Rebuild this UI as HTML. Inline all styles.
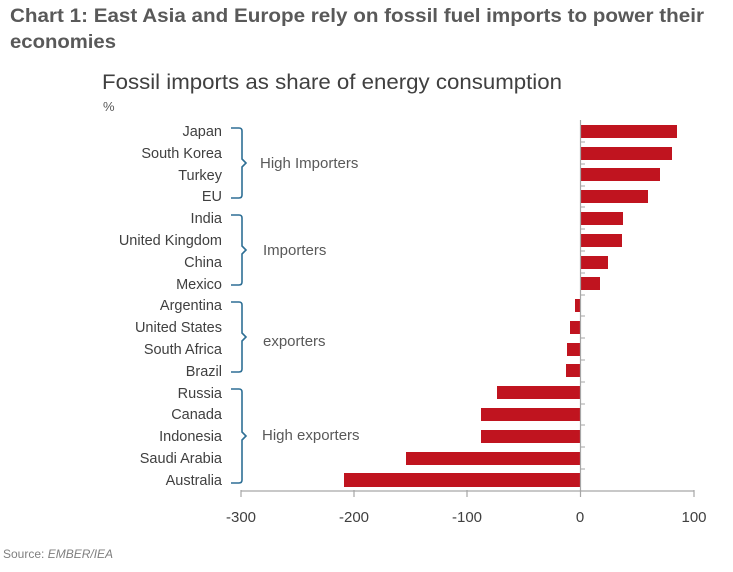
<!DOCTYPE html>
<html><head><meta charset="utf-8"><style>
body{margin:0;background:#fff;}
svg{display:block;font-family:"Liberation Sans",sans-serif;}
</style></head><body>
<svg width="733" height="572" viewBox="0 0 733 572">
<text x="10" y="22" font-size="19" font-weight="bold" fill="#595959" font-family="'Liberation Sans Narrow','Liberation Sans',sans-serif" textLength="694" lengthAdjust="spacingAndGlyphs">Chart 1: East Asia and Europe rely on fossil fuel imports to power their</text>
<text x="10" y="48" font-size="19" font-weight="bold" fill="#595959" font-family="'Liberation Sans Narrow','Liberation Sans',sans-serif" textLength="106" lengthAdjust="spacingAndGlyphs">economies</text>
<text x="102" y="89" font-size="21" fill="#404040" textLength="460" lengthAdjust="spacingAndGlyphs">Fossil imports as share of energy consumption</text>
<text x="103" y="111" font-size="13" fill="#595959">%</text>
<g font-size="14.5" fill="#404040" text-anchor="end">
<text x="222" y="136">Japan</text>
<text x="222" y="158">South Korea</text>
<text x="222" y="180">Turkey</text>
<text x="222" y="201">EU</text>
<text x="222" y="223">India</text>
<text x="222" y="245">United Kingdom</text>
<text x="222" y="267">China</text>
<text x="222" y="289">Mexico</text>
<text x="222" y="310">Argentina</text>
<text x="222" y="332">United States</text>
<text x="222" y="354">South Africa</text>
<text x="222" y="376">Brazil</text>
<text x="222" y="398">Russia</text>
<text x="222" y="419">Canada</text>
<text x="222" y="441">Indonesia</text>
<text x="222" y="463">Saudi Arabia</text>
<text x="222" y="485">Australia</text>
</g>
<g fill="none" stroke="#2e6f95" stroke-width="1.6">
<path d="M231,128 h8 q3,0 3,3 v28 l4,4 l-4,4 v28 q0,3 -3,3 h-8"/>
<path d="M231,215 h8 q3,0 3,3 v28 l4,4 l-4,4 v28 q0,3 -3,3 h-8"/>
<path d="M231,302 h8 q3,0 3,3 v28 l4,4 l-4,4 v28 q0,3 -3,3 h-8"/>
<path d="M231,389 h8 q3,0 3,3 v40 l4,4 l-4,4 v40 q0,3 -3,3 h-8"/>
</g>
<g font-size="15" fill="#595959">
<text x="260" y="168">High Importers</text>
<text x="263" y="255">Importers</text>
<text x="263" y="346">exporters</text>
<text x="262" y="440">High exporters</text>
</g>
<g fill="#c0141f">
<rect x="580" y="125" width="97" height="13"/>
<rect x="580" y="147" width="92" height="13"/>
<rect x="580" y="168" width="80" height="13"/>
<rect x="580" y="190" width="68" height="13"/>
<rect x="580" y="212" width="43" height="13"/>
<rect x="580" y="234" width="42" height="13"/>
<rect x="580" y="256" width="28" height="13"/>
<rect x="580" y="277" width="20" height="13"/>
<rect x="575" y="299" width="5" height="13"/>
<rect x="570" y="321" width="10" height="13"/>
<rect x="567" y="343" width="13" height="13"/>
<rect x="566" y="364" width="14" height="13"/>
<rect x="497" y="386" width="83" height="13"/>
<rect x="481" y="408" width="99" height="13"/>
<rect x="481" y="430" width="99" height="13"/>
<rect x="406" y="452" width="174" height="13"/>
<rect x="344" y="473" width="236" height="14"/>
</g>
<g stroke="#a6a6a6" stroke-width="1.2">
<line x1="580.5" y1="120" x2="580.5" y2="491"/>
<line x1="241" y1="491" x2="694" y2="491"/>
<line x1="241" y1="490" x2="241" y2="497"/>
<line x1="354" y1="490" x2="354" y2="497"/>
<line x1="467" y1="490" x2="467" y2="497"/>
<line x1="580.5" y1="490" x2="580.5" y2="497"/>
<line x1="694" y1="490" x2="694" y2="497"/>
</g>
<g stroke="#a6a6a6" stroke-width="1">
<line x1="580" y1="142" x2="585" y2="142"/><line x1="580" y1="164" x2="585" y2="164"/>
<line x1="580" y1="186" x2="585" y2="186"/><line x1="580" y1="207" x2="585" y2="207"/>
<line x1="580" y1="229" x2="585" y2="229"/><line x1="580" y1="251" x2="585" y2="251"/>
<line x1="580" y1="273" x2="585" y2="273"/><line x1="580" y1="295" x2="585" y2="295"/>
<line x1="580" y1="316" x2="585" y2="316"/><line x1="580" y1="338" x2="585" y2="338"/>
<line x1="580" y1="360" x2="585" y2="360"/><line x1="580" y1="382" x2="585" y2="382"/>
<line x1="580" y1="404" x2="585" y2="404"/><line x1="580" y1="425" x2="585" y2="425"/>
<line x1="580" y1="447" x2="585" y2="447"/><line x1="580" y1="469" x2="585" y2="469"/>
</g>
<g font-size="15" fill="#404040" text-anchor="middle">
<text x="241" y="522">-300</text>
<text x="354" y="522">-200</text>
<text x="467" y="522">-100</text>
<text x="580" y="522">0</text>
<text x="694" y="522">100</text>
</g>
<text x="3" y="558" font-size="12" fill="#7f7f7f">Source: <tspan font-style="italic">EMBER/IEA</tspan></text>
</svg>
</body></html>
